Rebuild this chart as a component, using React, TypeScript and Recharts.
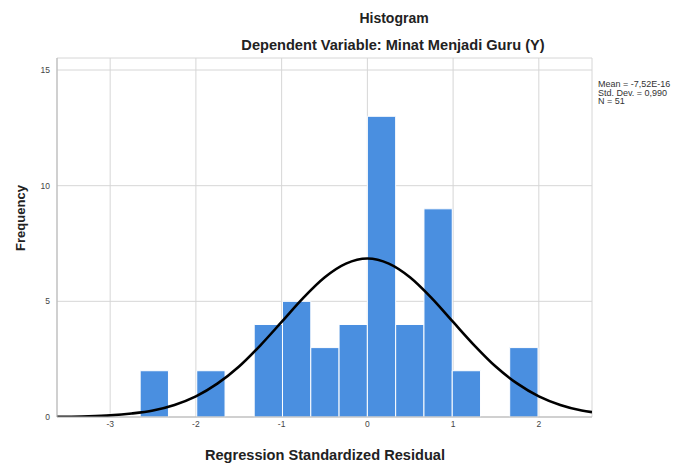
import React from "react";
import {
  ComposedChart,
  Line,
  XAxis,
  YAxis,
  CartesianGrid,
  ReferenceArea,
} from "recharts";

// Histogram bin edges (standardized residual) and counts per bin
const binEdges = [-2.65, -2.32, -1.99, -1.66, -1.32, -0.99, -0.66, -0.33, 0, 0.33, 0.66, 0.99, 1.32, 1.66, 1.99];
const binCounts = [2, 0, 2, 0, 4, 5, 3, 4, 13, 4, 9, 2, 0, 3];

// Normal curve
const curveX = [-3.62, -3.5, -3.25, -3, -2.75, -2.5, -2.25, -2, -1.75, -1.5, -1.25, -1, -0.75, -0.5, -0.25, 0, 0.25, 0.5, 0.75, 1, 1.25, 1.5, 1.75, 2, 2.25, 2.5, 2.62];
const curveY = [0.01, 0.01, 0.03, 0.07, 0.15, 0.28, 0.52, 0.89, 1.44, 2.17, 3.09, 4.11, 5.14, 6.03, 6.63, 6.85, 6.63, 6.03, 5.14, 4.11, 3.09, 2.17, 1.44, 0.89, 0.52, 0.28, 0.21];

const xTicks = [-3, -2, -1, 0, 1, 2];
const yTicks = [0, 5, 10, 15];
const xDomain = [-3.62, 2.62];
const yDomain = [0, 15.52];

const titleText = "Histogram";
const subtitleText = "Dependent Variable: Minat Menjadi Guru (Y)";
const xLabel = "Regression Standardized Residual";
const yLabel = "Frequency";
const statsLines = ["Mean = -7,52E-16", "Std. Dev. = 0,990", "N = 51"];

const curveData = curveX.map((x, i) => ({ x, y: curveY[i] }));

const FONT = '"Liberation Sans", Arial, sans-serif';

export default function App() {
  return (
    <div style={{ position: "absolute", left: 0, top: 0, width: 678, height: 465, background: "#fff", overflow: "hidden" }}>
      <ComposedChart
        width={678}
        height={465}
        data={curveData}
        margin={{ top: 58, right: 86, bottom: 18, left: 27 }}
      >
        <CartesianGrid stroke="#d6d6d6" strokeWidth={1} />
        <XAxis
          dataKey="x"
          type="number"
          domain={xDomain}
          ticks={xTicks}
          allowDataOverflow
          height={30}
          tickSize={0}
          tickMargin={4}
          axisLine={{ stroke: "#b5b5b5" }}
          tick={{ fontSize: 8.5, fill: "#444", fontFamily: FONT }}
        />
        <YAxis
          type="number"
          domain={yDomain}
          ticks={yTicks}
          allowDataOverflow
          width={30}
          tickSize={0}
          tickMargin={7}
          axisLine={{ stroke: "#b5b5b5" }}
          tick={{ fontSize: 8.5, fill: "#444", fontFamily: FONT }}
        />
        {binCounts.map((c, i) =>
          c > 0 ? (
            <ReferenceArea
              key={i}
              x1={binEdges[i]}
              x2={binEdges[i + 1]}
              y1={0}
              y2={c}
              fill="#4a8fe0"
              fillOpacity={1}
              stroke="#ffffff"
              strokeWidth={1}
            />
          ) : null
        )}
        <Line
          type="monotone"
          dataKey="y"
          stroke="#000"
          strokeWidth={2.6}
          dot={false}
          isAnimationActive={false}
        />
      </ComposedChart>
      <svg
        width={678}
        height={465}
        style={{ position: "absolute", left: 0, top: 0, pointerEvents: "none" }}
      >
        <text x={394} y={23} textAnchor="middle" fontFamily={FONT} fontWeight="bold" fontSize={14} fill="#222">
          {titleText}
        </text>
        <text x={393} y={50} textAnchor="middle" fontFamily={FONT} fontWeight="bold" fontSize={14.6} fill="#222">
          {subtitleText}
        </text>
        <text x={325} y={460} textAnchor="middle" fontFamily={FONT} fontWeight="bold" fontSize={14.6} fill="#222">
          {xLabel}
        </text>
        <text
          x={25}
          y={218}
          textAnchor="middle"
          transform="rotate(-90 25 218)"
          fontFamily={FONT}
          fontWeight="bold"
          fontSize={13}
          fill="#222"
        >
          {yLabel}
        </text>
        {statsLines.map((s, i) => (
          <text key={i} x={598} y={87 + i * 8.5} fontFamily={FONT} fontSize={9} fill="#333">
            {s}
          </text>
        ))}
      </svg>
    </div>
  );
}
